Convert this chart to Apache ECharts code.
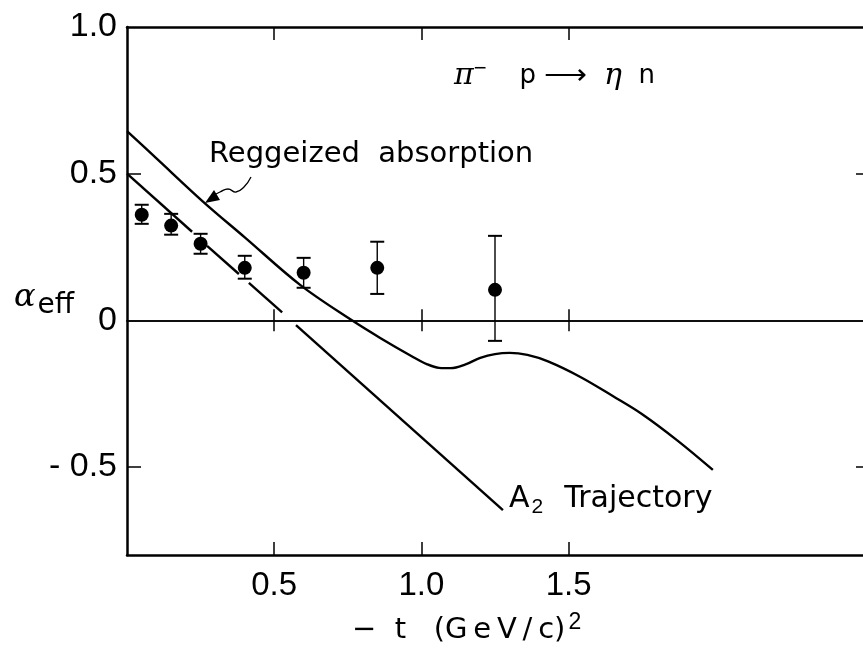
<!DOCTYPE html>
<html>
<head>
<meta charset="utf-8">
<script src="https://cdn.jsdelivr.net/npm/echarts@6/dist/echarts.min.js"></script>
<style>
  html, body { margin: 0; padding: 0; background: #fff; }
  #chart { width: 863px; height: 652px; }
</style>
</head>
<body>
<div id="chart"></div>
<script>
// Measured effective trajectory alpha_eff versus -t for pi- p -> eta n
const tValues    = [0.05, 0.15, 0.25, 0.40, 0.60, 0.85, 1.25];
const alphaValues = [0.360, 0.323, 0.261, 0.179, 0.162, 0.179, 0.104];
const alphaLow    = [0.329, 0.292, 0.227, 0.142, 0.111, 0.090, -0.070];
const alphaHigh   = [0.394, 0.363, 0.295, 0.220, 0.213, 0.268, 0.288];

// Reggeized absorption model curve
const reggeX = [0, 0.10, 0.258, 0.40, 0.588, 0.764, 0.86, 0.97, 1.02, 1.06, 1.10, 1.15, 1.20, 1.25, 1.30, 1.36, 1.43, 1.54, 1.65, 1.75, 1.87, 1.99];
const reggeY = [0.645, 0.552, 0.405, 0.283, 0.121, 0.0, -0.060, -0.124, -0.150, -0.162, -0.163, -0.150, -0.128, -0.115, -0.111, -0.118, -0.140, -0.193, -0.258, -0.320, -0.410, -0.510];

// A2 trajectory (null entries separate the drawn pieces)
const a2X = [0, 0.221, null, 0.272, 0.380, null, 0.414, 0.527, null, 0.574, 1.277];
const a2Y = [0.500, 0.302, null, 0.254, 0.158, null, 0.128, 0.027, null, -0.016, -0.647];

// Axis tick positions and labels
const xTicks = [0.5, 1.0, 1.5];
const yTicks = [0.5, -0.5];
const yLabelValues = [1.0, 0.5, 0, -0.5];
const yLabelText = { '1': '1.0', '0.5': '0.5', '0': '0', '-0.5': '- 0.5' };

const FONT = 'DejaVu Sans';
const INK = '#000';
const TS = '\u2009';

function pairs(xs, ys) {
  return xs.map((x, i) => [x, ys[i]]);
}

function splitSegments(xs, ys) {
  const segs = [];
  let cur = [];
  xs.forEach((x, i) => {
    if (x === null || ys[i] === null) {
      if (cur.length) segs.push(cur);
      cur = [];
    } else {
      cur.push([x, ys[i]]);
    }
  });
  if (cur.length) segs.push(cur);
  return segs;
}

const lineStyle = { color: INK, width: 2.4 };

const a2Series = splitSegments(a2X, a2Y).map((seg, k) => ({
  name: 'A2 Trajectory ' + k,
  type: 'line',
  data: seg,
  showSymbol: false,
  symbol: 'none',
  lineStyle: lineStyle,
  z: 3,
  silent: true
}));

const xRange = { min: 0, max: 2.5 };
const yRange = { min: -0.8, max: 1.0 };

const tickLabel = { color: INK, fontFamily: 'Liberation Sans' };

const option = {
  backgroundColor: '#fff',
  animation: false,
  grid: { left: 127, right: 0, top: 27, bottom: 97, containLabel: false },
  xAxis: [
    {
      type: 'value', ...xRange, position: 'bottom',
      axisLine: { onZero: false, lineStyle: { color: INK, width: 2.5 } },
      axisTick: { inside: true, length: 13, customValues: xTicks, lineStyle: { color: INK, width: 1.5 } },
      axisLabel: { ...tickLabel, customValues: xTicks, formatter: v => v.toFixed(1), fontSize: 33, margin: 14 },
      splitLine: { show: false }
    },
    {
      type: 'value', ...xRange, position: 'top',
      axisLine: { onZero: false, lineStyle: { color: INK, width: 2.5 } },
      axisTick: { inside: true, length: 13, customValues: xTicks, lineStyle: { color: INK, width: 1.5 } },
      axisLabel: { show: false },
      splitLine: { show: false }
    },
    {
      type: 'value', ...xRange, position: 'bottom',
      axisLine: { onZero: true, onZeroAxisIndex: 0, lineStyle: { color: INK, width: 1.6 } },
      axisTick: { inside: true, length: 11, customValues: xTicks, lineStyle: { color: INK, width: 1.5 } },
      axisLabel: { show: false },
      splitLine: { show: false }
    },
    {
      type: 'value', ...xRange, position: 'top',
      axisLine: { onZero: true, onZeroAxisIndex: 0, lineStyle: { color: INK, width: 1.6 } },
      axisTick: { inside: true, length: 11, customValues: xTicks, lineStyle: { color: INK, width: 1.5 } },
      axisLabel: { show: false },
      splitLine: { show: false }
    }
  ],
  yAxis: [
    {
      type: 'value', ...yRange, position: 'left',
      axisLine: { onZero: false, lineStyle: { color: INK, width: 2.5 } },
      axisTick: { inside: true, length: 14, customValues: yTicks, lineStyle: { color: INK, width: 1.5 } },
      axisLabel: {
        ...tickLabel,
        customValues: yLabelValues,
        formatter: v => yLabelText[String(v)],
        fontSize: 34, margin: 10
      },
      splitLine: { show: false }
    },
    {
      type: 'value', ...yRange, position: 'right',
      axisLine: { show: false, onZero: false },
      axisTick: { inside: true, length: 7, customValues: yTicks, lineStyle: { color: INK, width: 1.5 } },
      axisLabel: { show: false },
      splitLine: { show: false }
    }
  ],
  series: [
    {
      name: 'Reggeized absorption',
      type: 'line',
      data: pairs(reggeX, reggeY),
      smooth: 0.35,
      showSymbol: false,
      symbol: 'none',
      lineStyle: lineStyle,
      z: 3,
      silent: true
    },
    ...a2Series,
    {
      name: 'errors',
      type: 'custom',
      data: tValues.map((t, i) => [t, alphaLow[i], alphaHigh[i]]),
      encode: { x: 0, y: [1, 2] },
      z: 4,
      silent: true,
      renderItem: function (params, api) {
        const lo = api.coord([api.value(0), api.value(1)]);
        const hi = api.coord([api.value(0), api.value(2)]);
        const hw = 7;
        return {
          type: 'group',
          children: [
            { type: 'line', shape: { x1: lo[0], y1: lo[1], x2: hi[0], y2: hi[1] }, style: { stroke: INK, lineWidth: 1.4 } },
            { type: 'line', shape: { x1: hi[0] - hw, y1: hi[1], x2: hi[0] + hw, y2: hi[1] }, style: { stroke: INK, lineWidth: 2 } },
            { type: 'line', shape: { x1: lo[0] - hw, y1: lo[1], x2: lo[0] + hw, y2: lo[1] }, style: { stroke: INK, lineWidth: 2 } }
          ]
        };
      }
    },
    {
      name: 'data',
      type: 'scatter',
      data: pairs(tValues, alphaValues),
      symbol: 'circle',
      symbolSize: 14,
      itemStyle: { color: INK, opacity: 1 },
      z: 5,
      silent: true
    }
  ],
  graphic: [
    // reaction
    {
      type: 'text', left: 454, top: 58,
      style: {
        text: '{g|π}{sup|−}    p {arr|⟶}  {g|η}  n',
        fill: INK, font: '26px "DejaVu Sans"',
        rich: {
          g: { fontSize: 30, fontStyle: 'italic', fontFamily: 'DejaVu Serif', fill: INK },
          sup: { fontSize: 22, fill: INK, padding: [0, 0, 14, 0] },
          arr: { fontSize: 30, fill: INK }
        }
      }
    },
    // model labels
    {
      type: 'text', left: 209, top: 140,
      style: { text: 'Reggeized  absorption', fill: INK, font: '29px "DejaVu Sans"' }
    },
    {
      type: 'text', left: 509, top: 484,
      style: {
        text: 'A{sub|2}  Trajectory',
        fill: INK, font: '30px "DejaVu Sans"',
        rich: { sub: { fontSize: 21, fill: INK, padding: [16, 2, 0, 2] } }
      }
    },
    // wavy pointer to the absorption curve
    {
      type: 'polyline', silent: true,
      shape: { points: [[251, 177], [244, 187], [236, 192], [228, 189], [220, 192], [214, 195]], smooth: 0.5 },
      style: { stroke: INK, lineWidth: 1.3, fill: null }
    },
    {
      type: 'polygon', silent: true,
      shape: { points: [[205, 203], [220, 200], [214, 190]] },
      style: { fill: INK }
    },
    // axis titles
    {
      type: 'text', left: 14, top: 282,
      style: {
        text: '{a|α}{s|eff}',
        rich: {
          a: { fontSize: 32, fontFamily: 'DejaVu Serif', fontStyle: 'italic', fill: INK },
          s: { fontSize: 28, fontFamily: FONT, fill: INK, padding: [16, 0, 0, 2] }
        }
      }
    },
    {
      type: 'text', left: 352, top: 611,
      style: {
        text: '−  t   (' + ['G', 'e', 'V', '/', 'c'].join(TS) + '){sup|2}',
        fill: INK, font: '29px "DejaVu Sans"',
        rich: { sup: { fontSize: 23, fill: INK, padding: [0, 0, 16, 3] } }
      }
    }
  ]
};

const chart = echarts.init(document.getElementById('chart'), null, { renderer: 'canvas' });
chart.setOption(option);
</script>
</body>
</html>
